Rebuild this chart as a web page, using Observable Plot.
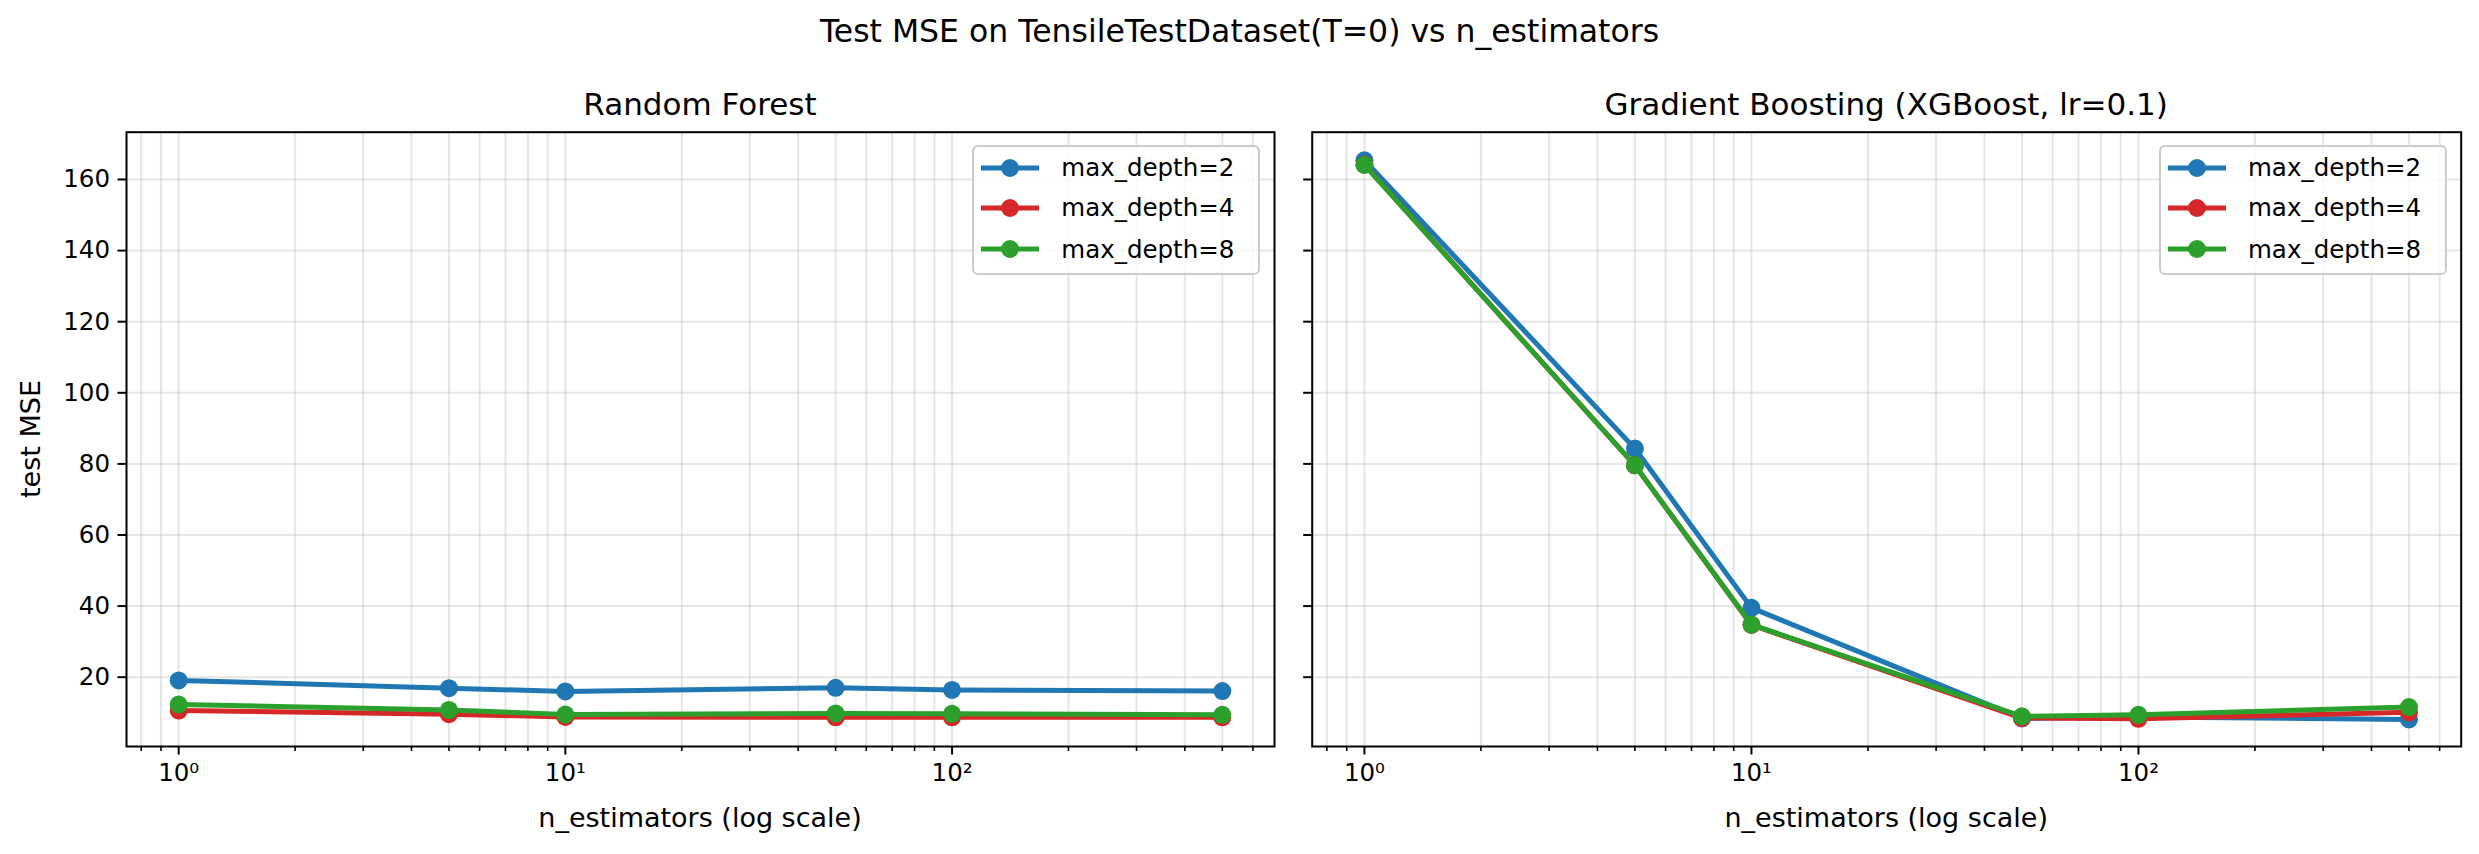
<!DOCTYPE html>
<html>
<head>
<meta charset="utf-8">
<script src="https://cdn.jsdelivr.net/npm/d3@7"></script>
<script src="https://cdn.jsdelivr.net/npm/@observablehq/plot@0.6"></script>
<style>
  html, body { margin: 0; padding: 0; background: #fff; }
  #root { position: relative; width: 2479px; height: 854px; overflow: hidden; font-family: "DejaVu Sans", sans-serif; color: #000; }
  .abs { position: absolute; white-space: nowrap; }
  .legend { position: absolute; box-sizing: border-box; border: 2px solid #cccccc; border-radius: 6px; background: rgba(255,255,255,0.8); }
  .legrow { position: absolute; left: 0; height: 30px; display: flex; align-items: center; font-size: 24.5px; }
</style>
</head>
<body>
<div id="root"></div>
<script>
// ---- data ----
const nEstimators = [1, 5, 10, 50, 100, 500];
const seriesNames = ["max_depth=2", "max_depth=4", "max_depth=8"];
const seriesColors = ["#1f77b4", "#d62728", "#2ca02c"];

const rfDepth2 = [19.1, 16.9, 16.0, 17.0, 16.4, 16.1];
const rfDepth4 = [10.6, 9.6, 8.8, 8.7, 8.7, 8.7];
const rfDepth8 = [12.3, 10.8, 9.5, 9.8, 9.7, 9.4];

const xgbDepth2 = [165.4, 84.3, 39.5, 8.4, 8.8, 8.1];
const xgbDepth4 = [164.2, 79.6, 34.7, 8.5, 8.3, 10.1];
const xgbDepth8 = [164.1, 79.6, 34.8, 9.0, 9.4, 11.6];

const yTicks = [20, 40, 60, 80, 100, 120, 140, 160];
const xMajorTicks = [1, 10, 100];
const xMajorLabels = ["10\u2070", "10\u00b9", "10\u00b2"];
const xMinorTicks = [0.8, 0.9, 2, 3, 4, 5, 6, 7, 8, 9, 20, 30, 40, 50, 60, 70, 80, 90, 200, 300, 400, 500, 600];

const suptitle = "Test MSE on TensileTestDataset(T=0) vs n_estimators";
const panelTitles = ["Random Forest", "Gradient Boosting (XGBoost, lr=0.1)"];
const xLabel = "n_estimators (log scale)";
const yLabel = "test MSE";

// ---- build ----
function toRows(arrays) {
  const rows = [];
  arrays.forEach((arr, si) => arr.forEach((v, i) => rows.push({n: nEstimators[i], mse: v, series: seriesNames[si]})));
  return rows;
}
const panels = [toRows([rfDepth2, rfDepth4, rfDepth8]), toRows([xgbDepth2, xgbDepth4, xgbDepth8])];

const root = document.getElementById("root");
const H = 854, frameTop = 131.7, frameBottom = 746;
const BASE = 0.846; // baseline offset (em) for DejaVu Sans with line-height 1
const layouts = [
  {left: 0, width: 1290, marginLeft: 126, marginRight: 16, labels: true},
  {left: 1290, width: 1189, marginLeft: 21.7, marginRight: 18.3, labels: false}
];

layouts.forEach((L, pi) => {
  const rows = panels[pi];
  const marks = [
    Plot.gridX(xMajorTicks.concat(xMinorTicks), {stroke: "#b0b0b0", strokeOpacity: 0.32, strokeWidth: 2}),
    Plot.gridY(yTicks, {stroke: "#b0b0b0", strokeOpacity: 0.32, strokeWidth: 2}),
    Plot.axisX(xMinorTicks, {tickSize: 5, strokeWidth: 1.6, tickFormat: () => "", label: null}),
    Plot.axisX(xMajorTicks, {tickSize: 8.5, strokeWidth: 2, tickPadding: 9, tickFormat: (d) => xMajorLabels[xMajorTicks.indexOf(d)], label: null, fontSize: 24.5}),
    Plot.axisY(yTicks, {tickSize: 8.5, strokeWidth: 2, tickPadding: 8, tickFormat: L.labels ? (d) => String(d) : () => "", label: null, fontSize: 24.5})
  ];
  seriesNames.forEach((s, si) => {
    const sub = rows.filter(r => r.series === s);
    marks.push(Plot.line(sub, {x: "n", y: "mse", stroke: "series", strokeWidth: 5, strokeLinejoin: "round"}));
    marks.push(Plot.dot(sub, {x: "n", y: "mse", fill: "series", r: 9, stroke: "none"}));
  });
  marks.push(Plot.frame({stroke: "black", strokeWidth: 2}));

  const svg = Plot.plot({
    width: L.width,
    height: H,
    marginLeft: L.marginLeft,
    marginRight: L.marginRight,
    marginTop: frameTop,
    marginBottom: H - frameBottom,
    x: {type: "log", domain: [0.7329, 682.2]},
    y: {domain: [0.5, 173.3]},
    color: {domain: seriesNames, range: seriesColors},
    style: {background: "transparent", fontFamily: "DejaVu Sans", fontSize: "24.5px", color: "black", overflow: "visible"},
    marks
  });
  svg.style.position = "absolute";
  svg.style.left = L.left + "px";
  svg.style.top = "0px";
  root.appendChild(svg);

  const fx0 = L.left + L.marginLeft, fx1 = L.left + L.width - L.marginRight;
  const cx = (fx0 + fx1) / 2;

  // panel title
  const t = document.createElement("div");
  t.className = "abs";
  t.textContent = panelTitles[pi];
  t.style.cssText += `font-size:31px; left:${cx}px; top:${115 - 31 * BASE}px; transform:translateX(-50%); line-height:31px;`;
  root.appendChild(t);

  // x label
  const xl = document.createElement("div");
  xl.className = "abs";
  xl.textContent = xLabel;
  xl.style.cssText += `font-size:27px; left:${cx}px; top:${827.3 - 27 * BASE}px; transform:translateX(-50%); line-height:27px;`;
  root.appendChild(xl);

  // legend
  const leg = document.createElement("div");
  leg.className = "legend";
  const legRight = fx1 - 13.7;
  leg.style.left = (legRight - 288) + "px";
  leg.style.top = "145px";
  leg.style.width = "288px";
  leg.style.height = "130px";
  const rowCenters = [22.7, 62.7, 104];
  seriesNames.forEach((s, si) => {
    const row = document.createElement("div");
    row.className = "legrow";
    row.style.top = (rowCenters[si] - 15 - 2) + "px";
    row.innerHTML = `<svg width="87" height="30" style="flex:none"><line x1="7" x2="65" y1="15" y2="15" stroke="${seriesColors[si]}" stroke-width="5"/><circle cx="36" cy="15" r="9" fill="${seriesColors[si]}"/></svg><span>${s}</span>`;
    leg.appendChild(row);
  });
  root.appendChild(leg);
});

// y label
const yl = document.createElement("div");
yl.className = "abs";
yl.textContent = yLabel;
yl.style.cssText += `font-size:27px; line-height:27px; left:30px; top:${(frameTop + frameBottom) / 2}px; transform:translate(-50%,-50%) rotate(-90deg);`;
root.appendChild(yl);

// suptitle
const st = document.createElement("div");
st.className = "abs";
st.textContent = suptitle;
st.style.cssText += `font-size:31.5px; line-height:31.5px; left:1239.5px; top:${42.7 - 31.5 * BASE}px; transform:translateX(-50%);`;
root.appendChild(st);
</script>
</body>
</html>
